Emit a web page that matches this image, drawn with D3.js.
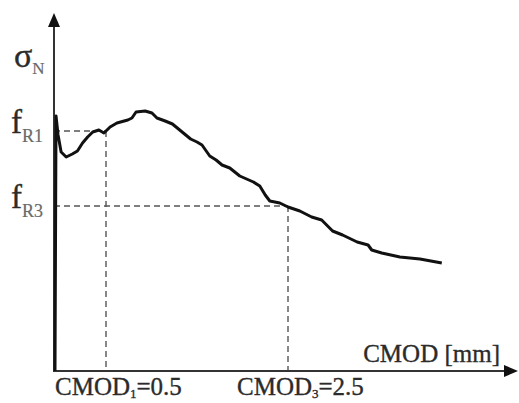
<!DOCTYPE html>
<html>
<head>
<meta charset="utf-8">
<script src="https://cdn.jsdelivr.net/npm/d3@7"></script>
<style>
  html, body { margin: 0; padding: 0; background: #fff; }
  svg { display: block; }
  text { font-family: 'Liberation Serif', 'DejaVu Serif', serif; fill: #2b2b2b; stroke: #2b2b2b; stroke-width: 0.35; }
  .sub { fill: #6a6a6a; stroke: #6a6a6a; stroke-width: 0.2; }
</style>
</head>
<body>
<svg id="chart" width="519" height="403"></svg>
<script>
// CMOD [mm] and nominal stress (arbitrary units)
const cmod = [0, 0.005, 0.01, 0.03, 0.06, 0.11, 0.17, 0.22, 0.27, 0.32, 0.37, 0.43, 0.48,
  0.545, 0.62, 0.74, 0.785, 0.83, 0.93, 1.005, 1.06, 1.15, 1.23, 1.35, 1.43, 1.5, 1.555,
  1.64, 1.71, 1.775, 1.86, 1.97, 2.12, 2.19, 2.25, 2.3, 2.41, 2.5, 2.63, 2.76, 2.87, 2.99,
  3.1, 3.26, 3.38, 3.42, 3.53, 3.73, 3.95, 4.19]
const sigmaN = [0, 2.62, 5.1, 4.72, 4.38, 4.28, 4.34, 4.4, 4.56, 4.68, 4.78, 4.82, 4.76,
  4.88, 4.96, 5.02, 5.06, 5.18, 5.2, 5.16, 5.06, 5.0, 4.94, 4.76, 4.64, 4.58, 4.52,
  4.3, 4.22, 4.12, 4.06, 3.9, 3.78, 3.7, 3.52, 3.4, 3.36, 3.28, 3.2, 3.08, 3.02, 2.8,
  2.72, 2.58, 2.52, 2.42, 2.36, 2.28, 2.24, 2.16]

// residual strengths at CMOD1 and CMOD3
const refCmod = [0.5, 2.5]
const refStress = [4.8, 3.3]
const refNames = ['1', '3']
const stressNames = ['R1', 'R3']

const svg = d3.select('#chart')
const origin = [54, 371]

const x = d3.scaleLinear().domain([0, 0.5, 2.5]).range([55, 106, 288])
const y = d3.scaleLinear().domain([0, 5]).range([origin[1], origin[1] - 250])

// dashed reference lines
const refs = refCmod.map((c, i) => ({c: c, s: refStress[i]}))
const dash = svg.append('g')
  .attr('stroke', '#555')
  .attr('stroke-width', 1.4)
  .attr('stroke-dasharray', '6,4')
  .attr('fill', 'none')

dash.selectAll('.h').data(refs).enter().append('line')
  .attr('x1', origin[0]).attr('x2', d => x(d.c))
  .attr('y1', d => y(d.s)).attr('y2', d => y(d.s))

dash.selectAll('.v').data(refs).enter().append('line')
  .attr('x1', d => x(d.c)).attr('x2', d => x(d.c))
  .attr('y1', d => y(d.s)).attr('y2', origin[1])

// axes with arrow heads
const axes = svg.append('g').attr('stroke', '#333').attr('stroke-width', 2)
axes.append('line')
  .attr('x1', origin[0]).attr('y1', origin[1])
  .attr('x2', origin[0]).attr('y2', 22)
axes.append('line')
  .attr('x1', origin[0] - 1).attr('y1', origin[1])
  .attr('x2', 508).attr('y2', origin[1])
svg.append('path')
  .attr('d', `M${origin[0]},13 L${origin[0] - 6},27 L${origin[0] + 6},27 Z`)
  .attr('fill', '#111')
svg.append('path')
  .attr('d', `M518,${origin[1]} L504,${origin[1] - 6} L504,${origin[1] + 6} Z`)
  .attr('fill', '#111')

// the curve
const line = d3.line()
  .x(d => x(d[0]))
  .y(d => y(d[1]))
svg.append('path')
  .datum(cmod.map((c, i) => [c, sigmaN[i]]))
  .attr('d', line)
  .attr('fill', 'none')
  .attr('stroke', '#111')
  .attr('stroke-width', 3)
  .attr('stroke-linejoin', 'round')

// y labels
const sig = svg.append('text').attr('x', 14).attr('y', 67).attr('font-size', 34)
sig.append('tspan').text('σ')
sig.append('tspan').attr('class', 'sub').attr('font-size', 17).attr('dy', 7).text('N')

svg.selectAll('.flabel').data(refs).enter().append('text')
  .attr('x', 11)
  .attr('y', d => y(d.s) + 2)
  .attr('font-size', 33)
  .each(function (d, i) {
    const t = d3.select(this)
    t.append('tspan').text('f')
    t.append('tspan').attr('class', 'sub').attr('font-size', 18).attr('dy', 9).text(stressNames[i])
  })

// x labels
svg.selectAll('.xlabel').data(refs).enter().append('text')
  .attr('x', d => x(d.c) - 51)
  .attr('y', 395)
  .attr('font-size', 25)
  .each(function (d, i) {
    const t = d3.select(this)
    t.append('tspan').text('CMOD')
    t.append('tspan').attr('font-size', 13).attr('dy', 3).text(refNames[i])
    t.append('tspan').attr('dy', -3).text('=' + d.c)
  })

svg.append('text')
  .attr('x', 500).attr('y', 362)
  .attr('text-anchor', 'end')
  .attr('font-size', 25)
  .text('CMOD [mm]')
</script>
</body>
</html>
